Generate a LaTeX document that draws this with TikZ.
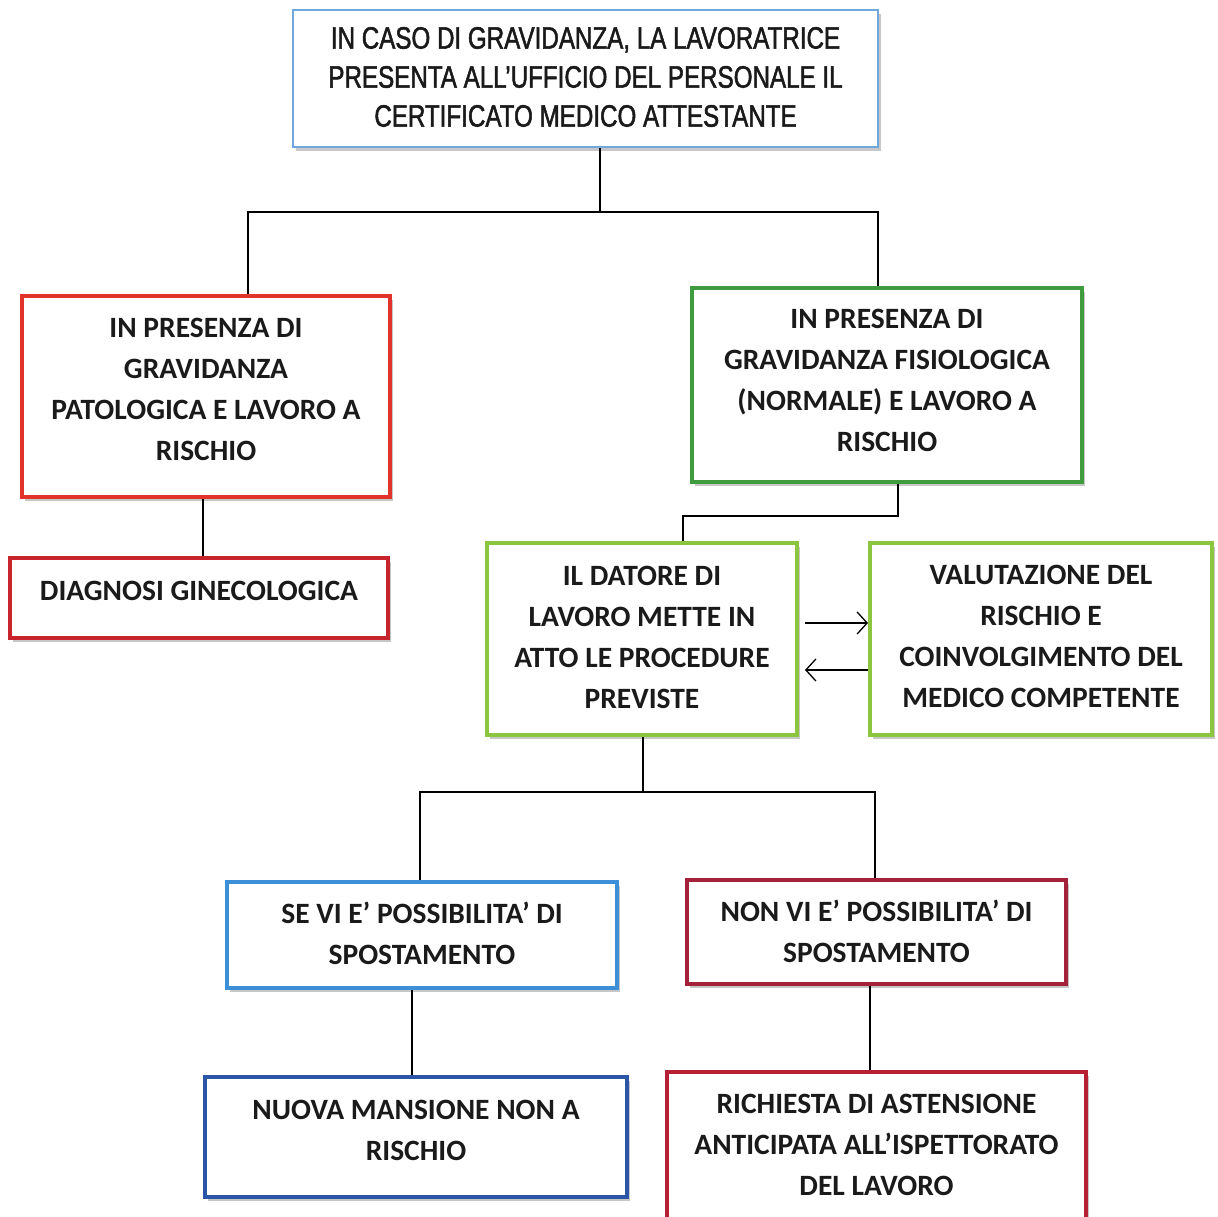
\documentclass[tikz,border=0pt]{standalone}
\usepackage{fontspec}
\setmainfont{Carlito}
\newfontfamily\arialn[FakeStretch=0.78,FakeBold=1.6]{Liberation Sans}
\usetikzlibrary{arrows.meta,shadows}
\definecolor{bTop}{HTML}{6FA8DC}
\definecolor{bRedA}{HTML}{E2332A}
\definecolor{bGreen}{HTML}{3E9B3E}
\definecolor{bRedB}{HTML}{C8242B}
\definecolor{bLGreen}{HTML}{8CC63F}
\definecolor{bBlue}{HTML}{3D8FD8}
\definecolor{bDRed}{HTML}{A3213A}
\definecolor{bDBlue}{HTML}{2B55A6}
\definecolor{bRedC}{HTML}{B52035}
\definecolor{txt}{HTML}{1A1A1A}
\tikzset{
  box/.style={draw, line width=4pt, fill=white, inner sep=0pt,
    drop shadow={shadow xshift=3pt, shadow yshift=-4pt, fill=black!40, opacity=0.55}},
  lbl/.style={align=center, inner sep=0pt, text=txt,
    font=\bfseries\fontsize{29.5}{41}\selectfont},
  toplbl/.style={lbl, font=\arialn\fontsize{31}{39}\selectfont},
  conn/.style={draw=black, line width=1.2pt},
  arr/.style={conn, -{Straight Barb[length=10pt,width=22pt,line width=1.3pt]}}
}
\begin{document}
\begin{tikzpicture}[x=1pt,y=-1pt]
\useasboundingbox (0,0) rectangle (1218,1217);
\clip (0,0) rectangle (1218,1217);
\fill[white] (0,0) rectangle (1218,1217);

% boxes
\node[box, draw=bTop, line width=2.5pt, minimum width=585pt, minimum height=137pt] (top) at (585.5,78.5) {};
\node[box, draw=bRedA, minimum width=368pt, minimum height=201pt] (L) at (206,396.5) {};
\node[box, draw=bGreen, minimum width=390pt, minimum height=194pt] (G) at (887,385) {};
\node[box, draw=bRedB, minimum width=378pt, minimum height=80pt] (D) at (199,598) {};
\node[box, draw=bLGreen, minimum width=310pt, minimum height=192pt] (DL) at (642,639) {};
\node[box, draw=bLGreen, minimum width=342pt, minimum height=192pt] (V) at (1041,639) {};
\node[box, draw=bBlue, minimum width=390pt, minimum height=106pt] (S) at (422,935) {};
\node[box, draw=bDRed, minimum width=379pt, minimum height=104pt] (N) at (876.5,932) {};
\node[box, draw=bDBlue, minimum width=422pt, minimum height=120pt] (M) at (416,1137) {};
\node[box, draw=bRedC, minimum width=419pt, minimum height=164pt] (R) at (876.5,1154) {};

% texts
\node[toplbl] (topT) at ([yshift=1.5pt]top.center)
  {IN CASO DI GRAVIDANZA, LA LAVORATRICE\\PRESENTA ALL’UFFICIO DEL PERSONALE IL\\CERTIFICATO MEDICO ATTESTANTE};
\node[lbl] (LT) at ([yshift=7pt]L.center)
  {IN PRESENZA DI\\GRAVIDANZA\\PATOLOGICA E LAVORO A\\RISCHIO};
\node[lbl] (GT) at ([yshift=5pt]G.center)
  {IN PRESENZA DI\\GRAVIDANZA FISIOLOGICA\\(NORMALE) E LAVORO A\\RISCHIO};
\node[lbl] (DT) at ([yshift=7pt]D.center) {DIAGNOSI GINECOLOGICA};
\node[lbl] (DLT) at ([yshift=2pt]DL.center)
  {IL DATORE DI\\LAVORO METTE IN\\ATTO LE PROCEDURE\\PREVISTE};
\node[lbl] (VT) at ([yshift=3pt]V.center)
  {VALUTAZIONE DEL\\RISCHIO E\\COINVOLGIMENTO DEL\\MEDICO COMPETENTE};
\node[lbl] (ST) at ([yshift=2pt]S.center) {SE VI E’ POSSIBILITA’ DI\\SPOSTAMENTO};
\node[lbl] (NT) at ([yshift=1pt]N.center) {NON VI E’ POSSIBILITA’ DI\\SPOSTAMENTO};
\node[lbl] (MT) at ([yshift=7pt]M.center) {NUOVA MANSIONE NON A\\RISCHIO};
\node[lbl] (RT) at ([yshift=9pt]R.center)
  {RICHIESTA DI ASTENSIONE\\ANTICIPATA ALL’ISPETTORATO\\DEL LAVORO};

% connectors
\coordinate (j1) at (600,212);
\coordinate (jL) at (248,212);
\coordinate (jR) at (878,212);
\draw[conn] (top.south -| j1) -- (j1);
\draw[conn] (L.north -| jL) -- (jL) -- (jR) -- (G.north -| jR);

\coordinate (k1) at (203,530);
\draw[conn] (L.south -| k1) -- (D.north -| k1);

\coordinate (g1) at (898,516);
\coordinate (g2) at (683,516);
\draw[conn] (G.south -| g1) -- (g1) -- (g2) -- (DL.north -| g2);

\coordinate (a1) at (0,623);
\coordinate (a2) at (0,670);
\draw[arr, shorten <=6pt] (DL.east |- a1) -- (V.west |- a1);
\draw[arr, shorten >=6pt] (V.west |- a2) -- (DL.east |- a2);

\coordinate (d1) at (643,792);
\coordinate (dL) at (420,792);
\coordinate (dR) at (875,792);
\draw[conn] (DL.south -| d1) -- (d1);
\draw[conn] (S.north -| dL) -- (dL) -- (dR) -- (N.north -| dR);

\coordinate (s1) at (412,1000);
\draw[conn] (S.south -| s1) -- (M.north -| s1);
\coordinate (n1) at (870,1000);
\draw[conn] (N.south -| n1) -- (R.north -| n1);
\end{tikzpicture}
\end{document}
